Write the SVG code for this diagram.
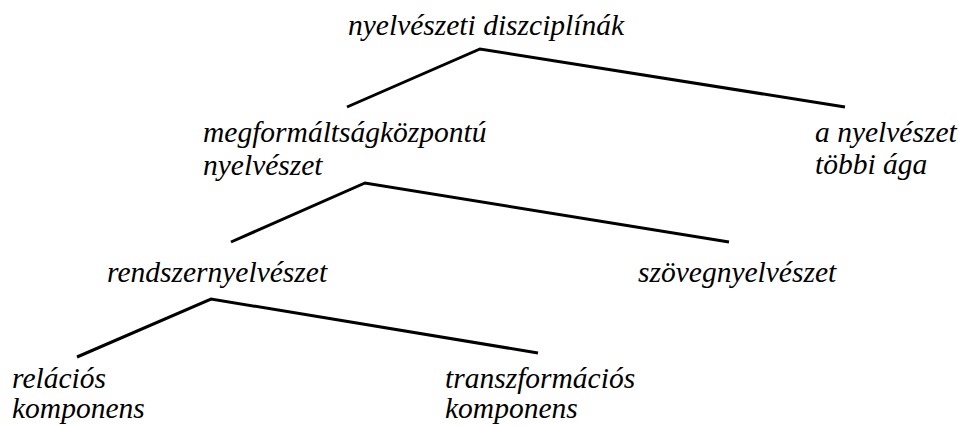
<svg xmlns="http://www.w3.org/2000/svg" width="959" height="425" viewBox="0 0 959 425">
<style>
text{font-family:"Liberation Serif","Times New Roman",serif;font-style:italic;font-size:29.5px;fill:#000}
.c{stroke:#000;stroke-width:3;fill:none;stroke-linejoin:miter}
</style>
<rect width="959" height="425" fill="#fff"/>
<g id="connectors">
<polyline class="c" points="347,107 480,49 845,107"/>
<polyline class="c" points="231,242 365,183 729,242"/>
<polyline class="c" points="77,357 211,299 538,353"/>
</g>
<g id="n-root"><text x="348" y="35">nyelvészeti diszciplínák</text></g>
<g id="n-megform"><text x="203" y="142">megformáltságközpontú</text><text x="203" y="175">nyelvészet</text></g>
<g id="n-tobbi"><text x="815" y="142">a nyelvészet</text><text x="815" y="174">többi ága</text></g>
<g id="n-rendszer"><text x="107" y="282">rendszernyelvészet</text></g>
<g id="n-szoveg"><text x="638" y="282">szövegnyelvészet</text></g>
<g id="n-relacios"><text x="12" y="388">relációs</text><text x="12" y="418">komponens</text></g>
<g id="n-transz"><text x="445" y="388">transzformációs</text><text x="445" y="418">komponens</text></g>
</svg>
